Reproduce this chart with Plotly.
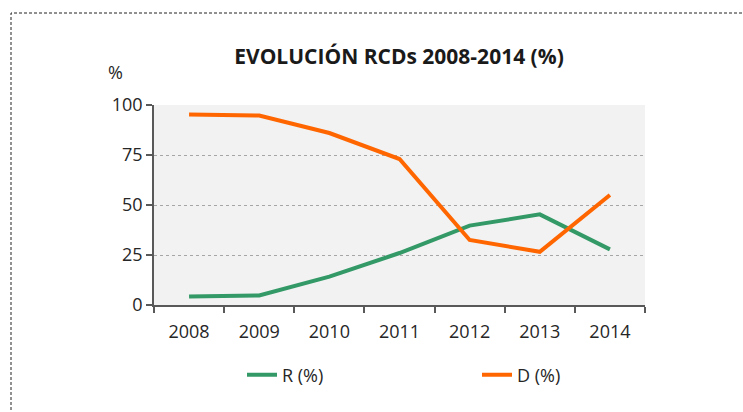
import plotly.graph_objects as go

years = ["2008", "2009", "2010", "2011", "2012", "2013", "2014"]
r_values = [4.2, 4.8, 14.2, 26.0, 39.7, 45.3, 27.8]
d_values = [95.3, 94.7, 86.0, 73.0, 32.5, 26.6, 55.0]
y_ticks = [0, 25, 50, 75, 100]

W, H = 743, 412
L, R, T, B = 154, 98, 105, 107
pw, ph = W - L - R, H - T - B

def px(x):
    return (x - L) / pw

def py(y):
    return (H - B - y) / ph

font = "Open Sans, Lato, sans-serif"

fig = go.Figure()
fig.add_trace(go.Scatter(x=years, y=r_values, mode="lines", name="R (%)",
                         line=dict(color="#339966", width=4)))
fig.add_trace(go.Scatter(x=years, y=d_values, mode="lines", name="D (%)",
                         line=dict(color="#ff6600", width=4)))

fig.update_layout(
    width=W, height=H,
    margin=dict(l=L, r=R, t=T, b=B),
    paper_bgcolor="white",
    plot_bgcolor="#f2f2f2",
    font=dict(family=font, color="#262626", size=18),
    title=dict(text="<b>EVOLUCIÓN RCDs 2008-2014 (%)</b>", xref="container", x=399 / W,
               xanchor="center", yref="container", y=1 - 57 / H, yanchor="middle",
               font=dict(size=21, color="#1a1a1a")),
    showlegend=True,
    legend=dict(orientation="h", x=px(242), y=py(375), xanchor="left", yanchor="middle",
                entrywidth=190, entrywidthmode="pixels", font=dict(size=18),
                bgcolor="rgba(0,0,0,0)"),
    xaxis=dict(type="category", range=[-0.5, 6.5], showgrid=False,
               showline=True, linecolor="#595959", linewidth=1.5,
               ticks="outside", tickson="boundaries", ticklen=6, tickcolor="#595959",
               tickwidth=1.5, tickfont=dict(size=18), ticklabelstandoff=10),
    yaxis=dict(range=[0, 100], tickvals=y_ticks, showgrid=True,
               gridcolor="#a6a6a6", griddash="dot", gridwidth=1,
               showline=True, linecolor="#595959", linewidth=1.5,
               ticks="outside", ticklen=6, tickcolor="#595959", tickwidth=1.5,
               tickfont=dict(size=18), zeroline=False),
    shapes=[dict(type="rect", xref="paper", yref="paper",
                 x0=px(11), x1=px(748), y0=py(420), y1=py(13),
                 line=dict(color="#222222", width=1, dash="3px,2px"), layer="below")],
    annotations=[dict(text="%", xref="paper", yref="paper", x=px(115), y=py(72),
                      xanchor="center", yanchor="middle", showarrow=False,
                      font=dict(size=18))],
)

fig.write_html("out.html", config={"displayModeBar": False},
               post_script="document.body.style.margin='0px';")
